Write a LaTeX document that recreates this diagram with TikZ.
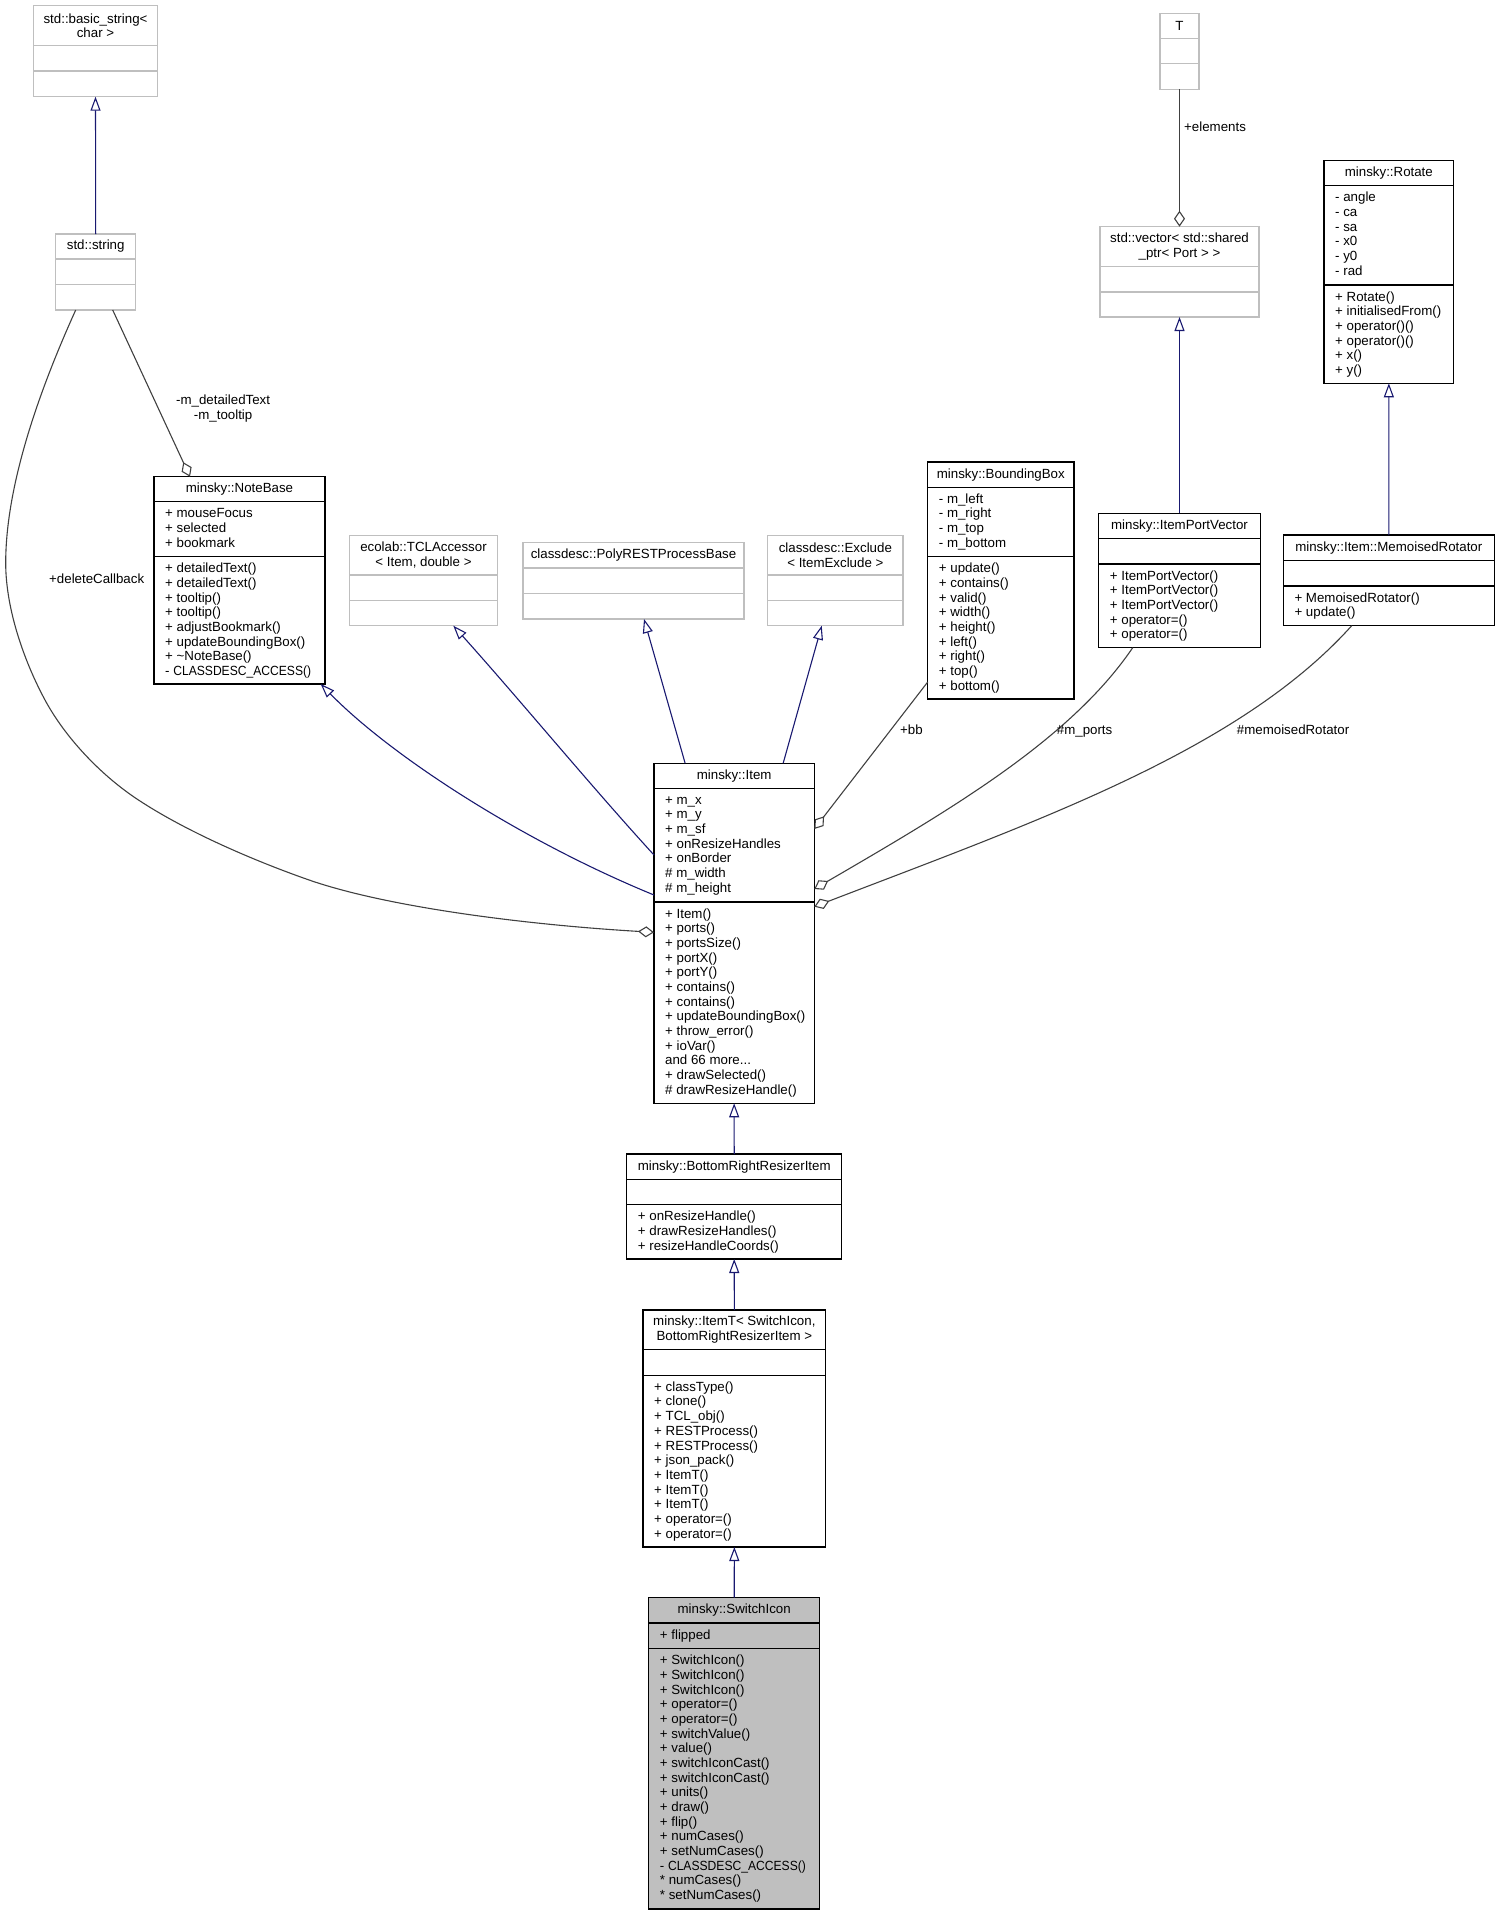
\documentclass[tikz,border=0pt]{standalone}
\usepackage{fontspec}
\setmainfont{Liberation Sans}
\usetikzlibrary{arrows.meta}
\definecolor{navyedge}{HTML}{191970}
\definecolor{greyedge}{HTML}{404040}
\definecolor{greybox}{HTML}{BFBFBF}

\tikzset{
  classframe/.style={rectangle,draw=black,line width=1.1pt,inner sep=0pt,outer sep=0pt,anchor=north west},
  greyframe/.style={classframe,draw=greybox},
  mainframe/.style={classframe,fill=greybox},
  titletext/.style={align=center,inner sep=0pt,font={\fontsize{13.3}{14.67}\selectfont}},
  rowtext/.style={align=left,anchor=north west,inner sep=0pt,font={\fontsize{13.3}{14.67}\selectfont}},
  edgetext/.style={align=center,anchor=base west,inner sep=0pt,font={\fontsize{13.3}{14.67}\selectfont}},
  inherit/.style={draw=navyedge,line width=1.1pt,{Triangle[open,length=14pt,width=10pt]}-},
  aggregate/.style={draw=greyedge,line width=1.1pt,-{Diamond[open,length=16pt,width=11pt]}},
}

\newcommand{\classbox}[8]{
\node[#2,minimum width={(#4-#3)*1pt},minimum height={(#8-#5)*1pt}] (#1) at (#3,#5) {};
\draw[#2,fill=none] (#1.west |- 0,#6) -- (#1.east |- 0,#6);
\draw[#2,fill=none] (#1.west |- 0,#7) -- (#1.east |- 0,#7);
\coordinate (#1-t) at ({(#3+#4)/2},{(#5+#6)/2});
\coordinate (#1-a) at (#3+11,#6+3.8);
\coordinate (#1-m) at (#3+11,#7+3.8);
}
\newcommand{\classtitle}[2]{\node[titletext] (#1-title) at (#1-t) {#2};}
\newcommand{\classattrs}[2]{\node[rowtext] (#1-attrs) at (#1-a) {\rule{0pt}{12pt}#2};}
\newcommand{\classmeths}[2]{\node[rowtext] (#1-meths) at (#1-m) {\rule{0pt}{12pt}#2};}
\newcommand{\squeezed}[1]{\scalebox{0.91}[1]{#1}}

\begin{document}
\begin{tikzpicture}[x=1pt,y=-1pt]
\useasboundingbox (0,0) rectangle (1500,1915);

\classbox{basicstr}{greyframe}{33.5}{157.5}{5.7}{45.7}{71}{96.7}
\classtitle{basicstr}{std::basic\_string<\\char >}

\classbox{string}{greyframe}{55.7}{135.7}{234}{259}{284.5}{310}
\classtitle{string}{std::string}

\classbox{tparam}{greyframe}{1160}{1199}{13.3}{38.3}{63.7}{89.3}
\classtitle{tparam}{T}

\classbox{vector}{greyframe}{1100}{1259}{226.7}{266.3}{292}{317}
\classtitle{vector}{std::vector< std::shared\\\_ptr< Port > >}

\classbox{rotate}{classframe}{1324}{1453.7}{160.7}{185.7}{285}{383.3}
\classtitle{rotate}{minsky::Rotate}
\classattrs{rotate}{- angle\\- ca\\- sa\\- x0\\- y0\\- rad}
\classmeths{rotate}{+ Rotate()\\+ initialisedFrom()\\+ operator()()\\+ operator()()\\+ x()\\+ y()}

\classbox{notebase}{classframe}{154}{325}{476.7}{501.7}{556.7}{684}
\classtitle{notebase}{minsky::NoteBase}
\classattrs{notebase}{+ mouseFocus\\+ selected\\+ bookmark}
\classmeths{notebase}{+ detailedText()\\+ detailedText()\\+ tooltip()\\+ tooltip()\\+ adjustBookmark()\\+ updateBoundingBox()\\+ \textasciitilde NoteBase()\\- \squeezed{CLASSDESC\_ACCESS()}}

\classbox{tclaccess}{greyframe}{349.3}{497.7}{535.3}{575}{600.7}{625.7}
\classtitle{tclaccess}{ecolab::TCLAccessor\\< Item, double >}

\classbox{polyrest}{greyframe}{523}{744}{542.7}{568}{593.3}{619}
\classtitle{polyrest}{classdesc::PolyRESTProcessBase}

\classbox{exclude}{greyframe}{767.7}{903}{535.3}{575}{600.7}{625.7}
\classtitle{exclude}{classdesc::Exclude\\< ItemExclude >}

\classbox{bbox}{classframe}{927.7}{1074}{462}{487.3}{556.7}{699}
\classtitle{bbox}{minsky::BoundingBox}
\classattrs{bbox}{- m\_left\\- m\_right\\- m\_top\\- m\_bottom}
\classmeths{bbox}{+ update()\\+ contains()\\+ valid()\\+ width()\\+ height()\\+ left()\\+ right()\\+ top()\\+ bottom()}

\classbox{portvec}{classframe}{1098.7}{1260.3}{513.3}{538.7}{564}{647.7}
\classtitle{portvec}{minsky::ItemPortVector}
\classmeths{portvec}{+ ItemPortVector()\\+ ItemPortVector()\\+ ItemPortVector()\\+ operator=()\\+ operator=()}

\classbox{memorot}{classframe}{1283.3}{1494.3}{535}{560.3}{586}{625.7}
\classtitle{memorot}{minsky::Item::MemoisedRotator}
\classmeths{memorot}{+ MemoisedRotator()\\+ update()}

\classbox{item}{classframe}{654}{814.3}{763.3}{788.3}{902}{1103.3}
\classtitle{item}{minsky::Item}
\classattrs{item}{+ m\_x\\+ m\_y\\+ m\_sf\\+ onResizeHandles\\+ onBorder\\\# m\_width\\\# m\_height}
\classmeths{item}{+ Item()\\+ ports()\\+ portsSize()\\+ portX()\\+ portY()\\+ contains()\\+ contains()\\+ updateBoundingBox()\\+ throw\_error()\\+ ioVar()\\and 66 more...\\+ drawSelected()\\\# drawResizeHandle()}

\classbox{brresizer}{classframe}{626.7}{841.7}{1154}{1179.3}{1204.7}{1259}
\classtitle{brresizer}{minsky::BottomRightResizerItem}
\classmeths{brresizer}{+ onResizeHandle()\\+ drawResizeHandles()\\+ resizeHandleCoords()}

\classbox{itemt}{classframe}{643}{825.7}{1310}{1349.7}{1375.3}{1547}
\classtitle{itemt}{minsky::ItemT< SwitchIcon,\\BottomRightResizerItem >}
\classmeths{itemt}{+ classType()\\+ clone()\\+ TCL\_obj()\\+ RESTProcess()\\+ RESTProcess()\\+ json\_pack()\\+ ItemT()\\+ ItemT()\\+ ItemT()\\+ operator=()\\+ operator=()}

\classbox{switchicon}{mainframe}{648.7}{819.7}{1597.7}{1623}{1648.7}{1909}
\classtitle{switchicon}{minsky::SwitchIcon}
\classattrs{switchicon}{+ flipped}
\classmeths{switchicon}{+ SwitchIcon()\\+ SwitchIcon()\\+ SwitchIcon()\\+ operator=()\\+ operator=()\\+ switchValue()\\+ value()\\+ switchIconCast()\\+ switchIconCast()\\+ units()\\+ draw()\\+ flip()\\+ numCases()\\+ setNumCases()\\- \squeezed{CLASSDESC\_ACCESS()}\\* numCases()\\* setNumCases()}

\draw[inherit] (basicstr.south) -- (string.north);
\draw[inherit] (vector.south) -- (portvec.north);
\draw[inherit] (rotate.south) -- (memorot.north);
\draw[inherit] (item.south) -- (brresizer.north);
\draw[inherit] (brresizer.south) -- (itemt.north);
\draw[inherit] (itemt.south) -- (switchicon.north);
\draw[inherit] ([xshift=81.2pt]notebase.south) .. controls (390,755) and (520,840) .. ([yshift=38.3pt]item.west);
\draw[inherit] ([xshift=29.8pt]tclaccess.south) .. controls (520,700) and (590,785) .. ([yshift=78.3pt]item.west);
\draw[inherit] ([xshift=10.5pt]polyrest.south) -- ([xshift=-49pt]item.north);
\draw[inherit] ([xshift=-13.6pt]exclude.south) -- ([xshift=49pt]item.north);

\draw[aggregate] (tparam.south) -- (vector.north);
\draw[aggregate] ([xshift=17pt]string.south) -- ([xshift=-49.5pt]notebase.north);
\draw[aggregate] ([xshift=-20pt]string.south) .. controls (35,400) and (5.7,490) .. (5.7,563) .. controls (5.7,610) and (25,663) .. (45,700) .. controls (65,737) and (99,773) .. (134,797) .. controls (184,831) and (257,862) .. (312,881) .. controls (392,908) and (530,925) .. ([yshift=1pt]item.west);
\draw[aggregate] ([yshift=-101.5pt]bbox.west) -- ([yshift=104.3pt]item.east);
\draw[aggregate] ([xshift=-46.8pt]portvec.south) .. controls (1070,740) and (950,810) .. ([yshift=44.3pt]item.east);
\draw[aggregate] ([xshift=-37.1pt]memorot.south) .. controls (1240,750) and (1040,820) .. ([yshift=26.6pt]item.east);

\node[edgetext] (lbl-elements) at (1184,131) {+elements};
\node[edgetext] (lbl-notes) at (176,419) {-m\_detailedText\\-m\_tooltip};
\node[edgetext] (lbl-callback) at (49,583) {+deleteCallback};
\node[edgetext] (lbl-bb) at (900,734) {+bb};
\node[edgetext] (lbl-ports) at (1056.7,734) {\#m\_ports};
\node[edgetext] (lbl-rotator) at (1236.7,734) {\#memoisedRotator};
\end{tikzpicture}
\end{document}
